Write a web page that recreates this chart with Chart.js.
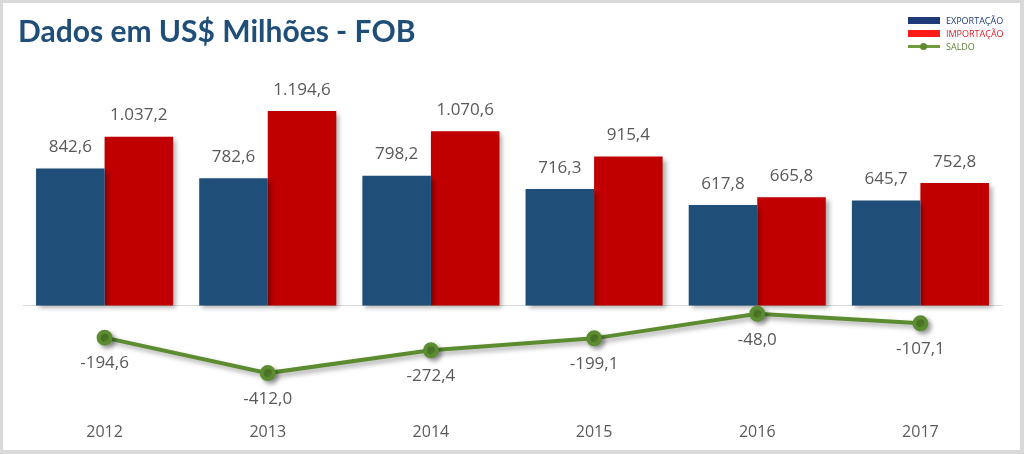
<!DOCTYPE html>
<html>
<head>
<meta charset="utf-8">
<script src="https://cdn.jsdelivr.net/npm/chart.js@4/dist/chart.umd.min.js"></script>
<style>
    html, body { margin: 0; padding: 0; background: #fff; }
    #wrap { position: relative; width: 1024px; height: 454px; overflow: hidden; }
    #frame {
        position: absolute; left: 0; top: 0; width: 1024px; height: 454px;
        box-sizing: border-box; border: 3px solid #d9d9d9; border-right-width: 4px; border-bottom-width: 4px;
        pointer-events: none;
    }
    #title {
        position: absolute; left: 18px; top: 12px;
        font-family: "Lato", sans-serif; font-weight: bold; font-size: 30px;
        color: #1f4e79; white-space: nowrap;
    }
    #legend { position: absolute; left: 908px; top: 14px; font-family: "Open Sans", sans-serif; font-size: 9px; }
    .item { display: flex; align-items: center; height: 13px; }
    .sw { position: relative; width: 32px; height: 7px; margin-right: 6px; }
    .sw.line { height: 3px; margin-top: 0; }
    .sw.line::after {
        content: ""; position: absolute; left: 12px; top: -2px; width: 7px; height: 7px;
        border-radius: 50%; background: #5b8c2f;
    }
</style>
</head>
<body>
<div id="wrap">
    <canvas id="chart" width="1024" height="454"></canvas>
    <div id="title">Dados em US$ Milhões - FOB</div>
    <div id="legend">
        <div class="item"><div class="sw" style="background:#1f3a78"></div><span style="color:#1f3a78">EXPORTAÇÃO</span></div>
        <div class="item"><div class="sw" style="background:#ff1a1a"></div><span style="color:#e0202a">IMPORTAÇÃO</span></div>
        <div class="item"><div class="sw line" style="background:#6f9a3e"></div><span style="color:#5e7f36">SALDO</span></div>
    </div>
    <div id="frame"></div>
</div>
<script>
const years = ["2012", "2013", "2014", "2015", "2016", "2017"];
const exportacao = [842.6, 782.6, 798.2, 716.3, 617.8, 645.7];
const importacao = [1037.2, 1194.6, 1070.6, 915.4, 665.8, 752.8];
const saldo = [-194.6, -412.0, -272.4, -199.1, -48.0, -107.1];

// pt-BR style number: 1.037,2
function fmt(v) {
    const neg = v < 0;
    const parts = Math.abs(v).toFixed(1).split(".");
    const intPart = parts[0].replace(/\B(?=(\d{3})+(?!\d))/g, ".");
    return (neg ? "-" : "") + intPart + "," + parts[1];
}

// soft drop shadow under bars and line
const shadowPlugin = {
    id: "shadow",
    beforeDatasetsDraw(chart) {
        const ctx = chart.ctx;
        ctx.save();
        ctx.shadowColor = "rgba(0,0,0,0.35)";
        ctx.shadowBlur = 5;
        ctx.shadowOffsetX = 3;
        ctx.shadowOffsetY = 3;
    },
    afterDatasetsDraw(chart) {
        chart.ctx.restore();
    },
};

// value labels
const labelPlugin = {
    id: "valueLabels",
    afterDraw(chart) {
        const ctx = chart.ctx;
        ctx.save();
        ctx.font = "17px 'Open Sans', sans-serif";
        ctx.fillStyle = "#595959";
        ctx.textAlign = "center";
        ctx.textBaseline = "middle";
        chart.data.datasets.forEach((ds, i) => {
            const meta = chart.getDatasetMeta(i);
            meta.data.forEach((el, j) => {
                const txt = fmt(ds.data[j]);
                if (ds.type === "line") {
                    ctx.fillText(txt, el.x, el.y + 26);
                } else {
                    ctx.fillText(txt, el.x, el.y - 21);
                }
            });
        });
        ctx.restore();
    },
};

const ctx = document.getElementById("chart").getContext("2d");
new Chart(ctx, {
    data: {
        labels: years,
        datasets: [
            {
                type: "line",
                label: "SALDO",
                data: saldo,
                borderColor: "#5b8c2f",
                backgroundColor: "#5b8c2f",
                borderWidth: 4,
                pointRadius: 6,
                pointHoverRadius: 6,
                tension: 0,
                order: 0,
            },
            {
                type: "bar",
                label: "EXPORTAÇÃO",
                data: exportacao,
                backgroundColor: "#1f4e79",
                categoryPercentage: 0.84,
                barPercentage: 1,
                order: 1,
            },
            {
                type: "bar",
                label: "IMPORTAÇÃO",
                data: importacao,
                backgroundColor: "#c00000",
                categoryPercentage: 0.84,
                barPercentage: 1,
                order: 1,
            },
        ],
    },
    options: {
        responsive: false,
        animation: false,
        layout: {
            padding: { top: 90, left: 23, right: 22, bottom: 0 },
        },
        plugins: {
            legend: { display: false },
            tooltip: { enabled: false },
        },
        scales: {
            x: {
                grid: { display: false },
                border: { display: false },
                ticks: {
                    color: "#595959",
                    padding: 12,
                    font: { family: "'Open Sans', sans-serif", size: 16 },
                },
            },
            y: {
                min: -594,
                max: 1323,
                afterBuildTicks: (axis) => {
                    axis.ticks = [{ value: 0 }];
                },
                ticks: { display: false },
                border: { display: false },
                grid: { color: "#d9d9d9", lineWidth: 1, drawTicks: false },
            },
        },
    },
    plugins: [shadowPlugin, labelPlugin],
});
</script>
</body>
</html>
